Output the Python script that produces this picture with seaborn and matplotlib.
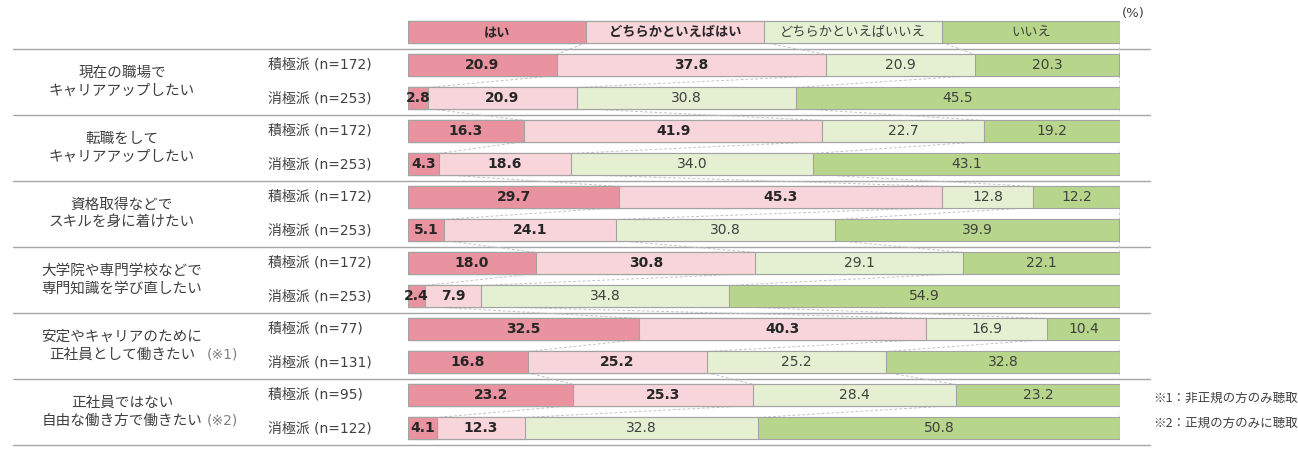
import numpy as np
import pandas as pd
import matplotlib
matplotlib.use("Agg")
import matplotlib.pyplot as plt
import matplotlib.transforms as mtransforms
import seaborn as sns

# answer categories and their colours
answers = ["はい", "どちらかといえばはい", "どちらかといえばいいえ", "いいえ"]
colors = ["#E8939F", "#F8D5DB", "#E5EFD2", "#B7D68B"]
legend_share = [25, 25, 25, 25]

topics = [
    "現在の職場で\nキャリアアップしたい",
    "転職をして\nキャリアアップしたい",
    "資格取得などで\nスキルを身に着けたい",
    "大学院や専門学校などで\n専門知識を学び直したい",
    "安定やキャリアのために\n正社員として働きたい",
    "正社員ではない\n自由な働き方で働きたい",
]
topic_notes = ["", "", "", "", "(※1)", "(※2)"]

groups = [
    "積極派 (n=172)", "消極派 (n=253)",
    "積極派 (n=172)", "消極派 (n=253)",
    "積極派 (n=172)", "消極派 (n=253)",
    "積極派 (n=172)", "消極派 (n=253)",
    "積極派 (n=77)", "消極派 (n=131)",
    "積極派 (n=95)", "消極派 (n=122)",
]

hai = [20.9, 2.8, 16.3, 4.3, 29.7, 5.1, 18.0, 2.4, 32.5, 16.8, 23.2, 4.1]
dochira_hai = [37.8, 20.9, 41.9, 18.6, 45.3, 24.1, 30.8, 7.9, 40.3, 25.2, 25.3, 12.3]
dochira_iie = [20.9, 30.8, 22.7, 34.0, 12.8, 30.8, 29.1, 34.8, 16.9, 25.2, 28.4, 32.8]
iie = [20.3, 45.5, 19.2, 43.1, 12.2, 39.9, 22.1, 54.9, 10.4, 32.8, 23.2, 50.8]

footnotes = ["※1：非正規の方のみ聴取", "※2：正規の方のみに聴取"]

sns.set_theme(style="white")
plt.rcParams["font.family"] = ["Noto Sans CJK JP", "DejaVu Sans"]
latin_first = ["DejaVu Sans", "Noto Sans CJK JP"]

# legend bar on top, then the 12 data rows
vals = np.array([legend_share] + [list(r) for r in zip(hai, dochira_hai, dochira_iie, iie)])
cum = np.cumsum(vals, axis=1)
row_ids = ["r%d" % i for i in range(len(vals))]

fig = plt.figure(figsize=(12.98, 4.5), dpi=100)
ax = fig.add_axes([408 / 1298, 0, 712 / 1298, 1])

bar_h = 0.64
edge = "#A3A3A3"
# layered cumulative bars: widest first
for k in range(3, -1, -1):
    df = pd.DataFrame({"row": row_ids, "cum": cum[:, k]})
    sns.barplot(data=df, x="cum", y="row", order=row_ids, orient="h",
                color=colors[k], saturation=1, edgecolor=edge, linewidth=0.8,
                width=bar_h, errorbar=None, ax=ax)

ax.set_xlim(0, 100)
ax.set_ylim((450 - 32) / 33, -32 / 33)
ax.axis("off")

# series lines between consecutive bars
for i in range(len(vals) - 1):
    for k in range(4):
        ax.plot([cum[i, k], cum[i + 1, k]], [i + bar_h / 2, i + 1 - bar_h / 2],
                color="#C4C4C4", lw=0.7, ls=(0, (3, 2)), zorder=0.5)

# value labels
for i in range(len(vals)):
    for k in range(4):
        left = cum[i, k] - vals[i, k]
        x = left + vals[i, k] / 2
        bold = k < 2
        if i == 0:
            ax.text(x, i, answers[k], ha="center", va="center", fontsize=9.5,
                    fontweight="bold" if bold else "normal",
                    color="#262626" if bold else "#404040", zorder=5)
        else:
            ax.text(x, i, "%.1f" % vals[i, k], ha="center", va="center",
                    fontsize=10, family=latin_first,
                    fontweight="bold" if bold else "normal",
                    color="#262626" if bold else "#404040", zorder=5)

ax.text(100.2, -0.55, "(%)", ha="left", va="center", fontsize=9.5,
        family=latin_first, color="#404040")

trans = mtransforms.blended_transform_factory(fig.transFigure, ax.transData)

# separators
for j in range(len(topics) + 1):
    y = 0.5 + 2 * j
    ax.plot([13 / 1298, 1150 / 1298], [y, y], transform=trans, color="#A6A6A6",
            lw=1.0, clip_on=False, zorder=0.4)

# left labels
for j, t in enumerate(topics):
    yc = 1.5 + 2 * j
    ax.text(122 / 1298, yc, t, transform=trans, ha="center", va="center",
            fontsize=10.5, color="#404040", linespacing=1.35)
    if topic_notes[j]:
        ax.text(207 / 1298, yc + 0.27, topic_notes[j], transform=trans,
                ha="left", va="center", fontsize=10, family=latin_first,
                color="#808080")

for i, g in enumerate(groups):
    ax.text(268 / 1298, i + 1, g, transform=trans, ha="left", va="center",
            fontsize=10, family=latin_first, color="#404040")

for n, f in enumerate(footnotes):
    ax.text(1153 / 1298, 11.1 + 0.76 * n, f, transform=trans, ha="left",
            va="center", fontsize=9, color="#404040")

fig.savefig("out.png", dpi=100)
